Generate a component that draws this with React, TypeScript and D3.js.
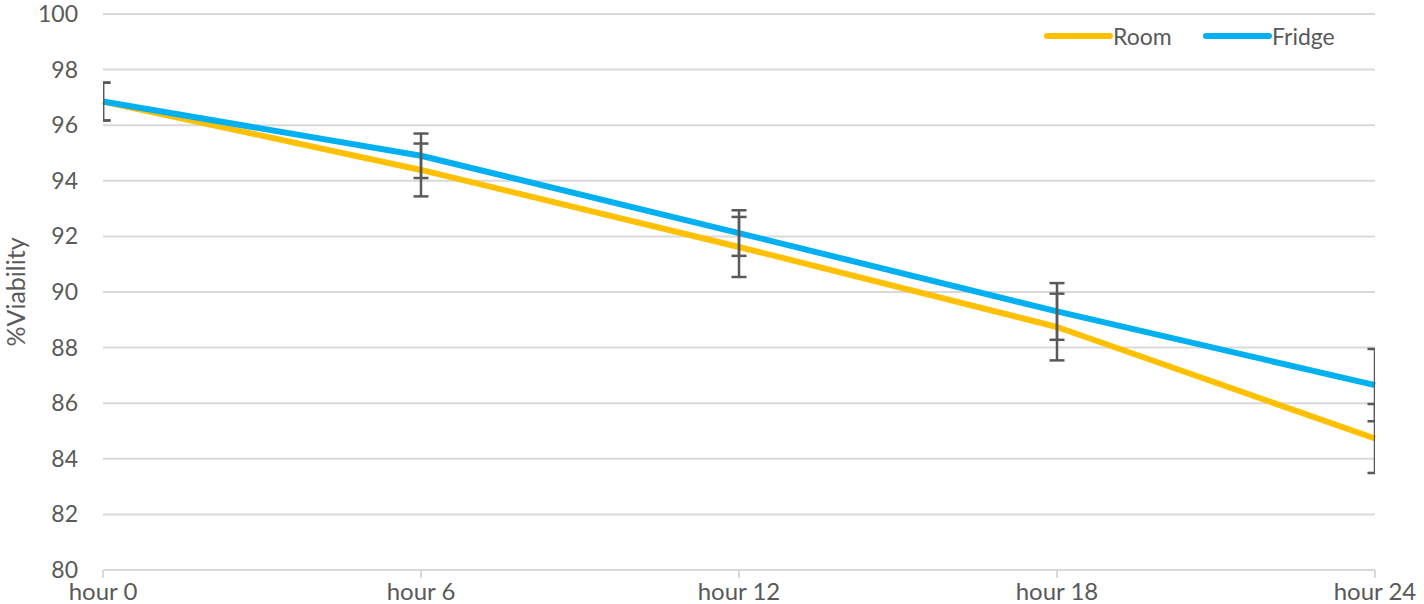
import * as d3 from "d3";

const hours = ["hour 0", "hour 6", "hour 12", "hour 18", "hour 24"];
const room = [96.85, 94.39, 91.62, 88.74, 84.73];
const roomErr = [0.68, 0.95, 1.08, 1.2, 1.24];
const fridge = [96.85, 94.9, 92.12, 89.3, 86.65];
const fridgeErr = [0.68, 0.8, 0.82, 1.02, 1.3];
const yTicks = [80, 82, 84, 86, 88, 90, 92, 94, 96, 98, 100];

const W = 1424;
const H = 604;
const font = "Lato, 'Open Sans', sans-serif";
const textColor = "#595959";

export default function App() {
  const x = d3.scalePoint<string>().domain(hours).range([103, 1375]);
  const y = d3.scaleLinear().domain([80, 100]).range([570, 14]);
  const line = d3
    .line<number>()
    .x((_, i) => x(hours[i]) as number)
    .y((d) => y(d));

  const series = [
    { name: "Room", values: room, err: roomErr, color: "#FFC000" },
    { name: "Fridge", values: fridge, err: fridgeErr, color: "#00B0F0" },
  ];

  return (
    <svg
      width={W}
      height={H}
      viewBox={`0 0 ${W} ${H}`}
      style={{ position: "absolute", left: 0, top: 0, background: "#fff" }}
    >
      <defs>
        <clipPath id="plot">
          <rect x={103} y={0} width={1375 - 103} height={H} />
        </clipPath>
      </defs>
      <g>
        {yTicks.map((t) => (
          <g key={t}>
            <line
              x1={103}
              x2={1375}
              y1={y(t)}
              y2={y(t)}
              stroke="#d9d9d9"
              strokeWidth={2}
            />
            <text
              x={78}
              y={y(t) - 1}
              textAnchor="end"
              dominantBaseline="central"
              fontFamily={font}
              fontSize={23}
              fill={textColor}
            >
              {t}
            </text>
          </g>
        ))}
        {hours.map((h) => (
          <g key={h}>
            <line
              x1={x(h)}
              x2={x(h)}
              y1={570}
              y2={578}
              stroke="#d9d9d9"
              strokeWidth={2}
            />
            <text
              x={x(h)}
              y={600}
              textAnchor="middle"
              fontFamily={font}
              fontSize={24}
              fill={textColor}
            >
              {h}
            </text>
          </g>
        ))}
        <text
          transform={`translate(25,292) rotate(-90)`}
          textAnchor="middle"
          fontFamily={font}
          fontSize={25}
          fill={textColor}
        >
          %Viability
        </text>
      </g>
      <g>
        {series.map((s) => (
          <path
            key={s.name}
            d={line(s.values) ?? ""}
            fill="none"
            stroke={s.color}
            strokeWidth={6}
            strokeLinejoin="round"
          />
        ))}
      </g>
      <g clipPath="url(#plot)" stroke="#595959" strokeWidth={2.5}>
        {series.map((s) =>
          s.values.map((v, i) => {
            const cx = x(hours[i]) as number;
            const top = y(v + s.err[i]);
            const bot = y(v - s.err[i]);
            return (
              <g key={`${s.name}-${i}`}>
                <line x1={cx} x2={cx} y1={top} y2={bot} />
                <line x1={cx - 7.5} x2={cx + 7.5} y1={top} y2={top} />
                <line x1={cx - 7.5} x2={cx + 7.5} y1={bot} y2={bot} />
              </g>
            );
          })
        )}
      </g>
      <g>
        {series.map((s, i) => {
          const lx = 1047 + i * 159;
          return (
            <g key={s.name}>
              <line
                x1={lx}
                x2={lx + 63}
                y1={36}
                y2={36}
                stroke={s.color}
                strokeWidth={6}
                strokeLinecap="round"
              />
              <text
                x={lx + 66}
                y={36}
                dominantBaseline="central"
                fontFamily={font}
                fontSize={23}
                fill={textColor}
              >
                {s.name}
              </text>
            </g>
          );
        })}
      </g>
    </svg>
  );
}
